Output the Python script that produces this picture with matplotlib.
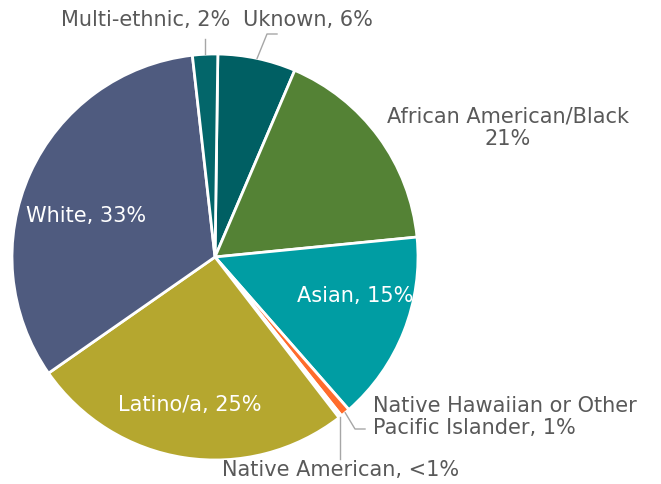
import matplotlib
matplotlib.use('Agg')
import matplotlib.pyplot as plt
import numpy as np

# values read off the wedges (the typed labels do not all match the drawn sizes)
groups = ['Uknown', 'African American/Black', 'Asian', 'Native Hawaiian or Other Pacific Islander',
          'Native American', 'Latino/a', 'White', 'Multi-ethnic']
shares = [6.2, 17.0, 15.1, 0.75, 0.25, 25.75, 32.9, 2.0]
labels = ['Uknown, 6%', 'African American/Black\n21%', 'Asian, 15%',
          'Native Hawaiian or Other\nPacific Islander, 1%', 'Native American, <1%',
          'Latino/a, 25%', 'White, 33%', 'Multi-ethnic, 2%']
colors = ['#005F63', '#548235', '#009DA3', '#FF6C2C', '#F2F2F2', '#B5A72F', '#4F5B7F', '#03666A']

W, H = 661, 485
cx, cy, R = 215, 258, 203  # pie centre / radius in pixels

def px(x, y):
    return (x - cx) / R, (cy - y) / R

fig = plt.figure(figsize=(W / 100, H / 100), dpi=100)
ax = fig.add_axes([0, 0, 1, 1])

wedges, _ = ax.pie(shares, colors=colors, startangle=89.2, counterclock=False, radius=1,
                   wedgeprops=dict(edgecolor='white', linewidth=2))
ax.set_aspect('auto')
ax.set_xlim(-cx / R, (W - cx) / R)
ax.set_ylim((cy - H) / R, cy / R)
ax.axis('off')

txt = '#595959'
fs = 15
fam = ['DejaVu Sans']

# labels inside the wedges
inside = {2: (355, 296), 5: (190, 405), 6: (86, 216)}
for i, (x, y) in inside.items():
    ax.text(*px(x, y), labels[i], color='white', fontsize=fs, family=fam, ha='center', va='center')

# outside labels
ax.text(*px(146, 20), labels[7], color=txt, fontsize=fs, family=fam, ha='center', va='center')
ax.text(*px(308, 20), labels[0], color=txt, fontsize=fs, family=fam, ha='center', va='center')
ax.text(*px(508, 128), labels[1], color=txt, fontsize=fs, family=fam, ha='center', va='center', linespacing=1.15)
ax.text(*px(373, 417), labels[3], color=txt, fontsize=fs, family=fam, ha='left', va='center', linespacing=1.15)
ax.text(*px(341, 470), labels[4], color=txt, fontsize=fs, family=fam, ha='center', va='center')

# leader lines from wedge edge to labels
def edge_pt(i, r=1.0):
    w = wedges[i]
    a = np.deg2rad((w.theta1 + w.theta2) / 2)
    return r * np.cos(a), r * np.sin(a)

lc = '#A6A6A6'
leaders = {7: [(206, 40)], 0: [(267, 35), (277, 35)], 3: [(355, 430), (365, 430)], 4: [(337, 460)]}
for i, pts in leaders.items():
    x0, y0 = edge_pt(i, 1.0)
    xs = [x0] + [px(*p)[0] for p in pts]
    ys = [y0] + [px(*p)[1] for p in pts]
    if i in (7, 4):
        xs[1] = x0
    ax.plot(xs, ys, color=lc, lw=1)

fig.savefig('out.png', dpi=100)
